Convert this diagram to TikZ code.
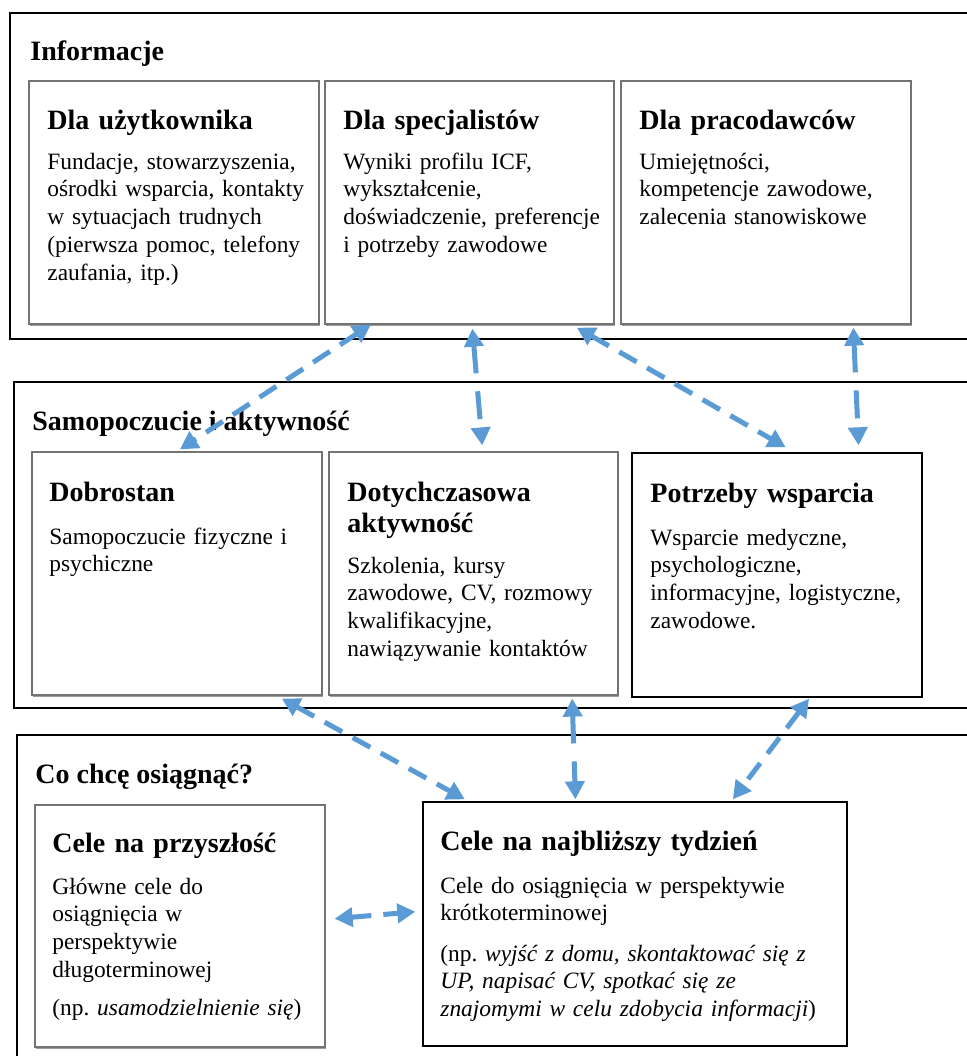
\documentclass[tikz,border=0pt]{standalone}
\usepackage{fontspec}
\setmainfont{Liberation Serif}
\usetikzlibrary{arrows.meta,calc,fit,shadows}
\definecolor{strzalka}{HTML}{5B9BD5}
\tikzset{
  sekcja/.style={draw=black, line width=0.8pt, inner sep=0pt},
  pole/.style={draw=black!55, line width=0.6pt, fill=white, inner sep=0pt,
    drop shadow={shadow xshift=0.6pt, shadow yshift=-0.9pt, opacity=0.7, fill=black!55}},
  polecz/.style={draw=black, line width=0.7pt, fill=white, inner sep=0pt},
  naglowek/.style={anchor=base west, inner sep=0pt, font=\fontsize{14}{16}\selectfont\bfseries},
  tytul/.style={anchor=base west, inner sep=0pt, text width=200pt, align=left,
    font=\fontsize{14}{15.5}\selectfont\bfseries},
  opis/.style={anchor=base west, inner sep=0pt, text width=200pt, align=left,
    font=\fontsize{11.7}{13.9}\selectfont},
  laczy/.style={strzalka, line width=2.5pt, {Triangle[length=9pt,width=9.5pt]}-{Triangle[length=9pt,width=9.5pt]},
    dash pattern=on 10pt off 6pt},
  laczydl/.style={laczy, dash pattern=on 14pt off 9pt}
}
\begin{document}
\begin{tikzpicture}[x=0.5pt,y=-0.5pt]
\clip (0,0) rectangle (967,1056);
\fill[white] (0,0) rectangle (967,1056);
\node[sekcja, fit={(10,13) (990,339)}] (info) {};
\node[naglowek] (info-t) at (30,60) {Informacje};
\node[pole, fit={(29,81) (319,324)}] (uzyt) {};
\node[pole, fit={(325,81) (614,324)}] (spec) {};
\node[pole, fit={(621,81) (911,324)}] (prac) {};
\node[tytul] (uzyt-t) at (47,129) {Dla użytkownika};
\node[opis] (uzyt-o) at (47,169) {Fundacje, stowarzyszenia,\\ośrodki wsparcia, kontakty\\w sytuacjach trudnych\\(pierwsza pomoc, telefony\\zaufania, itp.)};
\node[tytul] (spec-t) at (343,129) {Dla specjalistów};
\node[opis] (spec-o) at (343,169) {Wyniki profilu ICF,\\wykształcenie,\\doświadczenie, preferencje\\i potrzeby zawodowe};
\node[tytul] (prac-t) at (639,129) {Dla pracodawców};
\node[opis] (prac-o) at (639,169) {Umiejętności,\\kompetencje zawodowe,\\zalecenia stanowiskowe};

\node[sekcja, fit={(14,382) (990,708)}] (samo) {};
\node[naglowek] (samo-t) at (32,430) {Samopoczucie i aktywność};
\node[pole, fit={(32,452) (322,695)}] (dobr) {};
\node[pole, fit={(329,452) (618,695)}] (akt) {};
\node[polecz, fit={(632,453) (922,697)}] (wsp) {};
\node[tytul] (dobr-t) at (49,501) {Dobrostan};
\node[opis] (dobr-o) at (49,544) {Samopoczucie fizyczne i\\psychiczne};
\node[tytul] (akt-t) at (347,501) {Dotychczasowa\\aktywność};
\node[opis] (akt-o) at (347,573) {Szkolenia, kursy\\zawodowe, CV, rozmowy\\kwalifikacyjne,\\nawiązywanie kontaktów};
\node[tytul] (wsp-t) at (650,502) {Potrzeby wsparcia};
\node[opis] (wsp-o) at (650,545) {Wsparcie medyczne,\\psychologiczne,\\informacyjne, logistyczne,\\zawodowe.};

\node[sekcja, fit={(17,735) (990,1080)}] (cele) {};
\node[naglowek] (cele-t) at (35,783) {Co chcę osiągnąć?};
\node[pole, fit={(35,805) (325,1047)}] (przysz) {};
\node[polecz, fit={(423,802) (847,1046)}] (tydz) {};
\node[tytul] (przysz-t) at (52,852) {Cele na przyszłość};
\node[opis] (przysz-o) at (52,894) {Główne cele do\\osiągnięcia w\\perspektywie\\długoterminowej};
\node[opis] (przysz-np) at (52,1015) {(np.\ \textit{usamodzielnienie się})};
\node[tytul] (tydz-t) at (440,850) {Cele na najbliższy tydzień};
\node[opis] (tydz-o) at (440,893) {Cele do osiągnięcia w perspektywie\\krótkoterminowej};
\node[opis] (tydz-np) at (440,961) {(np.\ \textit{wyjść z domu, skontaktować się z}\\\textit{UP, napisać CV, spotkać się ze}\\\textit{znajomymi w celu zdobycia informacji})};

\draw[laczy] ($(spec.south west)!0.16!(spec.south east)$) -- ($(dobr.north west)!0.51!(dobr.north east)+(0,-2)$);
\draw[laczydl] ($(spec.south west)!0.51!(spec.south east)+(0,4)$) -- ($(akt.north west)!0.53!(akt.north east)+(0,-6)$);
\draw[laczy] ($(spec.south west)!0.87!(spec.south east)+(0,3)$) -- ($(wsp.north west)!0.53!(wsp.north east)+(0,-5)$);
\draw[laczydl] ($(prac.south west)!0.80!(prac.south east)+(0,3)$) -- ($(wsp.north west)!0.78!(wsp.north east)+(0,-7)$);
\draw[laczy] ($(dobr.south west)!0.86!(dobr.south east)+(0,3)$) -- ($(tydz.north west)!0.10!(tydz.north east)+(0,-2)$);
\draw[laczydl] ($(akt.south west)!0.84!(akt.south east)+(0,3)$) -- ($(tydz.north west)!0.36!(tydz.north east)+(0,-2)$);
\draw[laczy] ($(wsp.south west)!0.61!(wsp.south east)+(0,1)$) -- ($(tydz.north west)!0.73!(tydz.north east)+(0,-2)$);
\draw[laczy] ($(przysz.north east)!0.47!(przysz.south east)+(9,0)$) -- ($(tydz.north west)!0.45!(tydz.south west)+(-7,0)$);
\end{tikzpicture}
\end{document}
